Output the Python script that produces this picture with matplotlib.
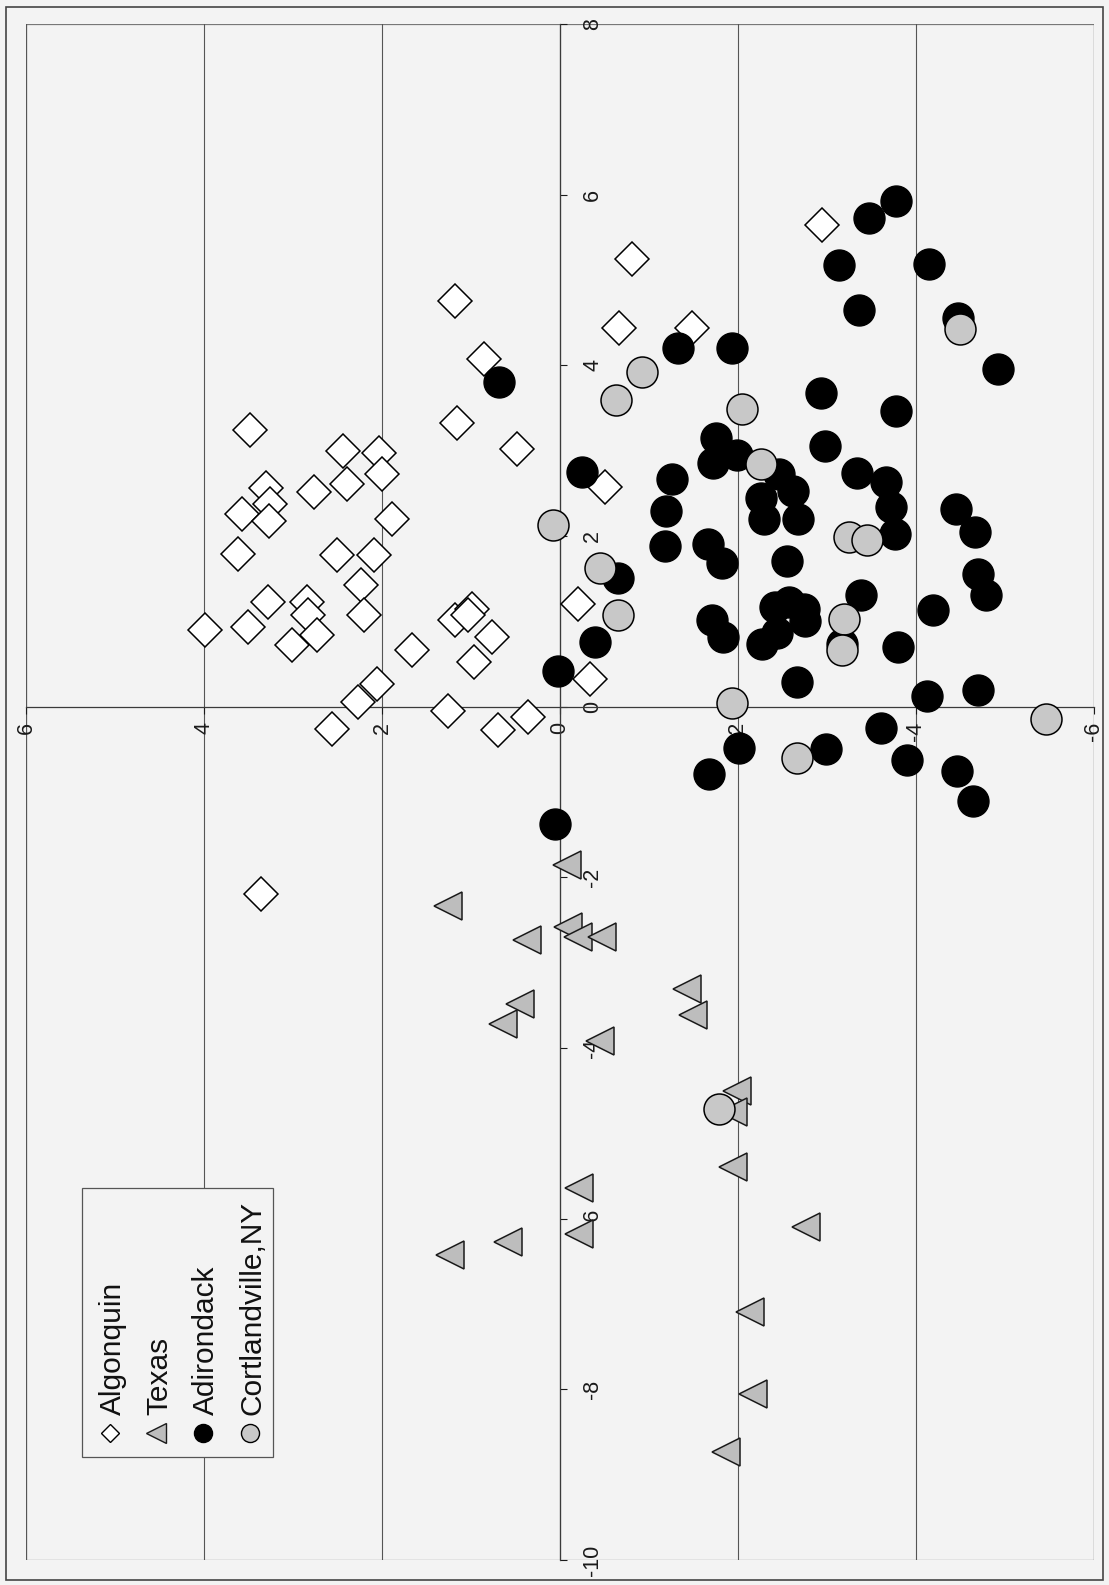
import matplotlib
matplotlib.use("Agg")
import matplotlib.pyplot as plt
from matplotlib.patches import Rectangle
from matplotlib.lines import Line2D

plt.rcParams['font.family'] = ['Liberation Sans', 'DejaVu Sans']
plt.rcParams['axes.unicode_minus'] = False

# Scores on the first (pc1) and second (pc2) ordination axes per population
algonquin_pc1 = [3.24, 3.00, 2.97, 2.73, 2.56, 2.38, 2.26, 2.17, 2.52, 2.61, 2.20, 1.79,
                 1.78, 1.78, 1.43, 1.23, 1.23, 1.08, 0.84, 0.72, 1.08, 0.93, 0.90, 3.33,
                 3.02, 0.66, 1.02, 1.15, 1.08, 0.82, 0.52, 0.26, 0.06, -0.05, -0.12, -0.27,
                 -0.26, 1.20, 0.32, 4.75, 4.08, 5.25, 4.44, 4.44, 5.65, 2.57, -2.20]
algonquin_pc2 = [3.48, 2.44, 2.03, 2.00, 3.30, 3.26, 3.57, 3.27, 2.76, 2.39, 1.89, 3.62,
                 2.51, 2.09, 2.24, 3.28, 2.84, 2.83, 2.73, 3.01, 2.20, 3.51, 3.99, 1.16,
                 0.48, 1.66, 1.18, 0.99, 1.03, 0.76, 0.97, 2.06, 2.27, 1.26, 0.36, 0.70,
                 2.56, -0.20, -0.34, 1.18, 0.85, -0.81, -0.66, -1.48, -2.94, -0.51, 3.36]

texas_pc1 = [-1.85, -2.34, -2.58, -2.70, -2.70, -2.74, -3.49, -3.72, -3.31, -3.61, -3.92,
             -4.50, -4.75, -5.40, -5.64, -6.18, -6.27, -6.42, -6.10, -7.09, -8.05, -8.73]
texas_pc2 = [-0.08, 1.26, -0.09, -0.20, -0.47, 0.37, 0.45, 0.64, -1.43, -1.49, -0.45,
             -1.99, -1.94, -1.94, -0.21, -0.21, 0.58, 1.24, -2.76, -2.13, -2.17, -1.87]

adirondack_pc1 = [5.92, 5.73, 5.17, 5.19, 4.65, 4.56, 3.96, 4.20, 4.20, 3.68, 3.47, 3.05,
                  2.74, 2.63, 3.15, 2.85, 2.95, 2.73, 2.53, 2.44, 2.67, 2.75, 2.34, 2.20,
                  2.20, 2.02, 2.29, 1.88, 1.91, 1.68, 1.71, 2.32, 2.05, 1.56, 1.31, 1.13,
                  1.31, 0.74, 0.70, 1.17, 1.23, 1.15, 1.00, 0.86, 0.73, 1.01, 0.82, 1.51,
                  0.76, 0.29, 0.12, 0.19, -0.25, -0.48, -0.79, -0.50, -0.62, -0.75, -1.11,
                  3.81, 0.42, -1.37]
adirondack_pc2 = [-3.78, -3.47, -3.13, -4.15, -3.36, -4.47, -4.92, -1.33, -1.93, -2.93, -3.78,
                  -2.98, -3.34, -3.66, -1.75, -1.72, -1.99, -2.46, -2.62, -2.26, -1.26, -0.25,
                  -3.72, -2.29, -2.67, -3.76, -1.19, -1.18, -1.66, -1.82, -2.55, -4.45, -4.66,
                  -4.70, -4.79, -4.19, -3.38, -3.17, -3.80, -2.42, -2.57, -2.74, -2.75, -2.44,
                  -2.27, -1.71, -1.83, -0.65, -0.39, -2.66, -4.12, -4.70, -3.61, -2.01, -1.67,
                  -2.99, -3.90, -4.46, -4.64, 0.69, 0.02, 0.06]

cortlandville_pc1 = [4.43, 3.92, 3.59, 3.49, 2.84, 1.99, 1.95, 1.03, 0.66, 1.63, 1.07,
                     0.04, -0.15, -0.60, -4.72, 2.13]
cortlandville_pc2 = [-4.49, -0.92, -0.63, -2.04, -2.26, -3.25, -3.45, -3.19, -3.17, -0.45,
                     -0.65, -1.93, -5.46, -2.66, -1.79, 0.08]

series_names = ["Algonquin", "Texas", "Adirondack", "Cortlandville,NY"]
pc1_ticks = [-10, -8, -6, -4, -2, 0, 2, 4, 6, 8]
pc2_ticks = [6, 4, 2, 0, -2, -4, -6]

W, H = 1109, 1585
BG = '#f3f3f3'
fig = plt.figure(figsize=(W / 100, H / 100), dpi=100, facecolor=BG)


def fpos(x, y):
    """Pixel position (from top-left) to figure fraction."""
    return x / W, 1 - y / H


ax = fig.add_axes([26 / W, 1 - 1560 / H, (1094 - 26) / W, (1560 - 24) / H])
ax.set_facecolor('none')
ax.set_xlim(6, -6)
ax.set_ylim(-10, 8)

# Axes cross at the origin; the page is turned so pc1 runs upward
ax.spines['top'].set_visible(False)
ax.spines['left'].set_visible(False)
ax.spines['bottom'].set_position(('data', 0))
ax.spines['right'].set_position(('data', 0))
for s in ('bottom', 'right'):
    ax.spines[s].set_color('#3a3a3a')
    ax.spines[s].set_linewidth(0.9)
ax.yaxis.tick_right()
ax.set_xticks(pc2_ticks)
ax.set_yticks(pc1_ticks)
ax.set_xticklabels([str(v) for v in pc2_ticks])
ax.set_yticklabels([str(v) for v in pc1_ticks])
ax.tick_params(axis='x', direction='out', length=5, width=0.8, pad=6,
               labelsize=15.5, labelrotation=90, colors='#1a1a1a')
ax.tick_params(axis='y', direction='out', length=5, width=0.8, pad=11,
               labelsize=15.5, labelrotation=90, colors='#1a1a1a')
for lab in ax.get_yticklabels():
    lab.set_va('center')
ax.grid(axis='x', color='#555555', lw=0.8)
ax.add_patch(Rectangle((0, 0), 1, 1, transform=ax.transAxes, fill=False,
                       ec='#777777', lw=0.9, zorder=1))

styles = [
    dict(marker='D', ms=17.2, mfc='white', mec='black', mew=1.1),
    dict(marker='<', ms=20.5, mfc='#bdbdbd', mec='#1a1a1a', mew=1.1),
    dict(marker='o', ms=22.3, mfc='black', mec='black', mew=1.0),
    dict(marker='o', ms=22.3, mfc='#c8c8c8', mec='black', mew=1.1),
]
data = [(algonquin_pc2, algonquin_pc1), (texas_pc2, texas_pc1),
        (adirondack_pc2, adirondack_pc1), (cortlandville_pc2, cortlandville_pc1)]
for i, ((h, v), st) in enumerate(zip(data, styles)):
    ax.plot(h, v, ls='none', zorder=3 + 0.1 * i, clip_on=False, **st)

# Legend box with rotated entries
lx0, ly0 = fpos(82, 1457)
fig.add_artist(Rectangle((lx0, ly0), (273 - 82) / W, (1457 - 1188) / H,
                         transform=fig.transFigure, fc=BG, ec='#555555', lw=0.9, zorder=5))
baselines = [121, 167, 214, 261]
leg_ms = [9.5, 14, 13, 13]
for name, st, bx, ms in zip(series_names, styles, baselines, leg_ms):
    tx, ty = fpos(bx, 1415)
    fig.text(tx, ty, name, rotation=90, rotation_mode='anchor', ha='left',
             va='baseline', fontsize=21.5, color='#111111', zorder=6)
    mx, my = fpos(bx - 11, 1433)
    kw = dict(st)
    kw['ms'] = ms
    kw['mew'] = 1.0
    fig.add_artist(Line2D([mx], [my], transform=fig.transFigure, ls='none',
                          zorder=6, **kw))

# Page frame
fx0, fy0 = fpos(6, 1580)
fig.add_artist(Rectangle((fx0, fy0), (1103 - 6) / W, (1580 - 7) / H,
                         transform=fig.transFigure, fill=False, ec='#444444', lw=1.2))

fig.savefig('out.png', dpi=100, facecolor=BG)
